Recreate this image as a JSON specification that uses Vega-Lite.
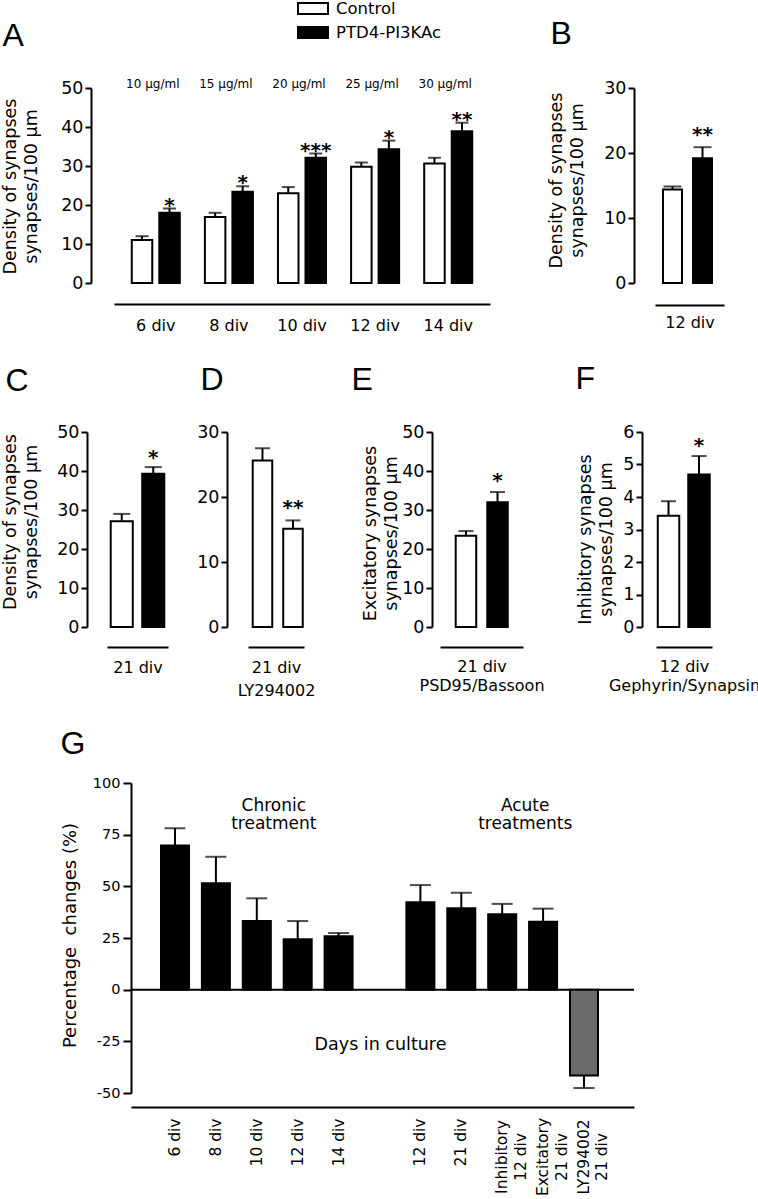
{
  "$schema": "https://vega.github.io/schema/vega-lite/v6.json",
  "background": "white",
  "padding": {"left": 1, "top": 0, "right": 0, "bottom": 0},
  "config": {
    "font": "DejaVu Sans",
    "view": {"stroke": null},
    "axis": {"labelFont": "DejaVu Sans", "titleFont": "DejaVu Sans", "labelColor": "black", "titleColor": "black", "domainColor": "black", "tickColor": "black", "domainWidth": 2, "tickWidth": 2, "grid": false, "labelOverlap": false, "labelFlush": false, "titleFontWeight": "normal"},
    "legend": {"labelFont": "DejaVu Sans", "labelColor": "black"}
  },
  "datasets": {
    "A": [
      {"day": "6 div", "treatment": "Control", "mean": 11.0, "hi": 12.0},
      {"day": "6 div", "treatment": "PTD4-PI3KAc", "mean": 18.0, "hi": 19.1, "sig": "*"},
      {"day": "8 div", "treatment": "Control", "mean": 16.95, "hi": 18.0},
      {"day": "8 div", "treatment": "PTD4-PI3KAc", "mean": 23.4, "hi": 24.8, "sig": "*"},
      {"day": "10 div", "treatment": "Control", "mean": 23.0, "hi": 24.6},
      {"day": "10 div", "treatment": "PTD4-PI3KAc", "mean": 32.1, "hi": 33.2, "sig": "***"},
      {"day": "12 div", "treatment": "Control", "mean": 29.8, "hi": 30.9},
      {"day": "12 div", "treatment": "PTD4-PI3KAc", "mean": 34.3, "hi": 36.5, "sig": "*"},
      {"day": "14 div", "treatment": "Control", "mean": 30.65, "hi": 32.1},
      {"day": "14 div", "treatment": "PTD4-PI3KAc", "mean": 38.9, "hi": 41.1, "sig": "**"}
    ],
    "concA": [
      {"day": "6 div", "conc": "10 µg/ml"},
      {"day": "8 div", "conc": "15 µg/ml"},
      {"day": "10 div", "conc": "20 µg/ml"},
      {"day": "12 div", "conc": "25 µg/ml"},
      {"day": "14 div", "conc": "30 µg/ml"}
    ],
    "B": [
      {"treatment": "Control", "mean": 14.4, "hi": 14.85},
      {"treatment": "PTD4-PI3KAc", "mean": 19.2, "hi": 20.9, "sig": "**"}
    ],
    "C": [
      {"treatment": "Control", "mean": 27.1, "hi": 29.0},
      {"treatment": "PTD4-PI3KAc", "mean": 39.3, "hi": 41.0, "sig": "*"}
    ],
    "D": [
      {"treatment": "Control", "mean": 25.6, "hi": 27.5},
      {"treatment": "LY294002", "mean": 15.1, "hi": 16.4, "sig": "**"}
    ],
    "E": [
      {"treatment": "Control", "mean": 23.4, "hi": 24.6},
      {"treatment": "PTD4-PI3KAc", "mean": 32.0, "hi": 34.6, "sig": "*"}
    ],
    "F": [
      {"treatment": "Control", "mean": 3.42, "hi": 3.87},
      {"treatment": "PTD4-PI3KAc", "mean": 4.69, "hi": 5.26, "sig": "*"}
    ],
    "G": [
      {"cond": "6 div", "treatment": "PTD4-PI3KAc", "mean": 69.7, "end": 78.1},
      {"cond": "8 div", "treatment": "PTD4-PI3KAc", "mean": 51.5, "end": 64.3},
      {"cond": "10 div", "treatment": "PTD4-PI3KAc", "mean": 33.2, "end": 44.2},
      {"cond": "12 div", "treatment": "PTD4-PI3KAc", "mean": 24.4, "end": 33.2},
      {"cond": "14 div", "treatment": "PTD4-PI3KAc", "mean": 25.8, "end": 27.4},
      {"cond": "Acute 12 div", "treatment": "PTD4-PI3KAc", "mean": 42.3, "end": 50.6},
      {"cond": "Acute 21 div", "treatment": "PTD4-PI3KAc", "mean": 39.4, "end": 46.9},
      {"cond": "Inhibitory 12 div", "treatment": "PTD4-PI3KAc", "mean": 36.5, "end": 41.5},
      {"cond": "Excitatory 21 div", "treatment": "PTD4-PI3KAc", "mean": 32.9, "end": 39.2},
      {"cond": "LY294002 21 div", "treatment": "LY294002", "mean": -41.5, "end": -47.6}
    ]
  },
  "spacing": 29,
  "resolve": {"scale": {"fill": "independent"}},
  "vconcat": [
    {
      "hconcat": [
        {"width": 7, "height": 1, "data": {"values": []}, "mark": "point"},
        {
          "width": 376, "height": 195,
          "data": {"name": "A"},
          "resolve": {"axis": {"x": "independent"}},
          "layer": [
            {
              "data": {"values": [{}]},
              "mark": {"type": "rule", "opacity": 0},
              "encoding": {"y": {"datum": 0, "type": "quantitative", "axis": {"values": [0, 10, 20, 30, 40, 50], "tickCount": 6, "labelOverlap": false}}}
            },
            {
              "mark": {"type": "bar", "stroke": "black", "strokeWidth": 2},
              "encoding": {
                "x": {"field": "day", "type": "nominal", "sort": null,
                  "scale": {"domain": ["6 div", "8 div", "10 div", "12 div", "14 div"], "paddingInner": 0.343, "paddingOuter": 0.243},
                  "axis": {"orient": "bottom", "offset": 21, "ticks": false, "tickSize": 0, "labelPadding": 13, "labelFontSize": 16, "labelAngle": 0, "title": null}},
                "xOffset": {"field": "treatment", "type": "nominal", "scale": {"domain": ["Control", "PTD4-PI3KAc"], "paddingInner": 0.255, "paddingOuter": 0}},
                "y": {"field": "mean", "type": "quantitative", "scale": {"domain": [0, 50], "nice": false},
                  "axis": {"values": [0, 10, 20, 30, 40, 50], "tickCount": 6, "offset": 23, "tickSize": 6, "labelPadding": 2, "labelFontSize": 17.5, "labelOverlap": false, "title": ["Density of synapses", "synapses/100 µm"], "titleFontSize": 17.5, "titleLineHeight": 21, "titleAngle": 270, "titleAlign": "center", "titleBaseline": "top", "titleX": -90, "titleY": 98}},
                "fill": {"field": "treatment", "type": "nominal", "scale": {"domain": ["Control", "PTD4-PI3KAc"], "range": ["white", "black"]},
                  "legend": {"orient": "none", "legendX": 190, "legendY": -88, "title": null, "symbolType": "M-1,-0.367H1V0.367H-1Z", "symbolSize": 900, "symbolStrokeColor": "black", "symbolStrokeWidth": 2, "labelFontSize": 16.5, "labelOffset": 7, "clipHeight": 17, "rowPadding": 7, "padding": 0}}
              }
            },
            {
              "mark": {"type": "rule", "color": "black", "strokeWidth": 2},
              "encoding": {
                "x": {"field": "day", "type": "nominal", "axis": null},
                "xOffset": {"field": "treatment", "type": "nominal"},
                "y": {"field": "mean", "type": "quantitative", "axis": {"values": [0, 10, 20, 30, 40, 50], "tickCount": 6, "labelOverlap": false}},
                "y2": {"field": "hi"}
              }
            },
            {
              "mark": {"type": "tick", "color": "black", "thickness": 2, "size": 13},
              "encoding": {
                "x": {"field": "day", "type": "nominal", "axis": null},
                "xOffset": {"field": "treatment", "type": "nominal"},
                "y": {"field": "hi", "type": "quantitative", "axis": {"values": [0, 10, 20, 30, 40, 50], "tickCount": 6, "labelOverlap": false}}
              }
            },
            {
              "transform": [{"filter": "datum.sig"}],
              "mark": {"type": "text", "fontSize": 20, "fontWeight": "bold", "baseline": "alphabetic", "dy": 3},
              "encoding": {
                "x": {"field": "day", "type": "nominal", "axis": null},
                "xOffset": {"field": "treatment", "type": "nominal"},
                "y": {"field": "hi", "type": "quantitative", "axis": {"values": [0, 10, 20, 30, 40, 50], "tickCount": 6, "labelOverlap": false}},
                "text": {"field": "sig"}
              }
            },
            {
              "data": {"name": "concA"},
              "mark": {"type": "text", "fontSize": 12, "baseline": "alphabetic", "dx": -3},
              "encoding": {
                "x": {"field": "day", "type": "nominal",
                  "axis": {"orient": "top", "domain": false, "ticks": false, "labels": false, "title": "A", "titleFont": "Liberation Sans", "titleFontSize": 32, "titleFontWeight": "normal", "titleAlign": "left", "titleBaseline": "alphabetic", "titleAngle": 0, "titleX": -112, "titleY": -43}},
                "y": {"datum": 50, "type": "quantitative", "axis": {"values": [0, 10, 20, 30, 40, 50], "tickCount": 6, "labelOverlap": false}},
                "text": {"field": "conc"}
              }
            }
          ]
        },
        {"width": 165, "height": 1, "data": {"values": []}, "mark": "point"},
        {
          "width": 69, "height": 195,
          "data": {"name": "B"},
          "resolve": {"axis": {"x": "independent"}},
          "layer": [
            {
              "data": {"values": [{}]},
              "mark": {"type": "rule", "opacity": 0},
              "encoding": {"y": {"datum": 0, "type": "quantitative", "axis": {"values": [0, 10, 20, 30], "tickCount": 4, "labelOverlap": false}}}
            },
            {
              "mark": {"type": "bar", "stroke": "black", "strokeWidth": 2},
              "encoding": {
                "x": {"field": "treatment", "type": "nominal", "sort": null,
                  "scale": {"domain": ["Control", "PTD4-PI3KAc"], "paddingInner": 0.367, "paddingOuter": 0.333, "align": 0.4},
                  "axis": {"orient": "bottom", "offset": 22, "ticks": false, "tickSize": 0, "labels": false, "title": "12 div", "titleFontSize": 16, "titleBaseline": "top", "titleY": 9.5}},
                "y": {"field": "mean", "type": "quantitative", "scale": {"domain": [0, 30], "nice": false},
                  "axis": {"values": [0, 10, 20, 30], "tickCount": 4, "offset": 21, "tickSize": 6, "labelPadding": 2, "labelFontSize": 17.5, "labelOverlap": false, "title": ["Density of synapses", "synapses/100 µm"], "titleFontSize": 17.5, "titleLineHeight": 21, "titleAngle": 270, "titleAlign": "center", "titleBaseline": "top", "titleX": -87, "titleY": 92}},
                "fill": {"field": "treatment", "type": "nominal", "scale": {"domain": ["Control", "PTD4-PI3KAc"], "range": ["white", "black"]}, "legend": null}
              }
            },
            {
              "mark": {"type": "rule", "color": "black", "strokeWidth": 2},
              "encoding": {
                "x": {"field": "treatment", "type": "nominal", "axis": null},
                "y": {"field": "mean", "type": "quantitative", "axis": {"values": [0, 10, 20, 30], "tickCount": 4, "labelOverlap": false}},
                "y2": {"field": "hi"}
              }
            },
            {
              "mark": {"type": "tick", "color": "black", "thickness": 2, "size": 18},
              "encoding": {
                "x": {"field": "treatment", "type": "nominal", "axis": null},
                "y": {"field": "hi", "type": "quantitative", "axis": {"values": [0, 10, 20, 30], "tickCount": 4, "labelOverlap": false}}
              }
            },
            {
              "transform": [{"filter": "datum.sig"}],
              "mark": {"type": "text", "fontSize": 20, "fontWeight": "bold", "baseline": "alphabetic", "dy": -6},
              "encoding": {
                "x": {"field": "treatment", "type": "nominal",
                  "axis": {"orient": "top", "domain": false, "ticks": false, "labels": false, "title": "B", "titleFont": "Liberation Sans", "titleFontSize": 32, "titleFontWeight": "normal", "titleAlign": "left", "titleBaseline": "alphabetic", "titleAngle": 0, "titleX": -105, "titleY": -45}},
                "y": {"field": "hi", "type": "quantitative", "axis": {"values": [0, 10, 20, 30], "tickCount": 4, "labelOverlap": false}},
                "text": {"field": "sig"}
              }
            }
          ]
        }
      ],
      "spacing": 0,
      "bounds": "flush"
    },
    {
      "hconcat": [
        {
          "width": 61, "height": 195,
          "data": {"name": "C"},
          "resolve": {"axis": {"x": "independent"}},
          "layer": [
            {
              "data": {"values": [{}]},
              "mark": {"type": "rule", "opacity": 0},
              "encoding": {"y": {"datum": 0, "type": "quantitative", "axis": {"values": [0, 10, 20, 30, 40, 50], "tickCount": 6, "labelOverlap": false}}}
            },
            {
              "mark": {"type": "bar", "stroke": "black", "strokeWidth": 2},
              "encoding": {
                "x": {"field": "treatment", "type": "nominal", "sort": null,
                  "scale": {"domain": ["Control", "PTD4-PI3KAc"], "paddingInner": 0.3, "paddingOuter": 0.118},
                  "axis": {"orient": "bottom", "offset": 20, "ticks": false, "tickSize": 0, "labels": false, "title": "21 div", "titleFontSize": 16, "titleBaseline": "top", "titleY": 12}},
                "y": {"field": "mean", "type": "quantitative", "scale": {"domain": [0, 50], "nice": false},
                  "axis": {"values": [0, 10, 20, 30, 40, 50], "tickCount": 6, "offset": 20, "tickSize": 6, "labelPadding": 2, "labelFontSize": 17.5, "labelOverlap": false, "title": ["Density of synapses", "synapses/100 µm"], "titleFontSize": 17.5, "titleLineHeight": 21, "titleAngle": 270, "titleAlign": "center", "titleBaseline": "top", "titleX": -86, "titleY": 89.5}},
                "fill": {"field": "treatment", "type": "nominal", "scale": {"domain": ["Control", "PTD4-PI3KAc"], "range": ["white", "black"]}, "legend": null}
              }
            },
            {
              "mark": {"type": "rule", "color": "black", "strokeWidth": 2},
              "encoding": {
                "x": {"field": "treatment", "type": "nominal", "axis": null},
                "y": {"field": "mean", "type": "quantitative", "axis": {"values": [0, 10, 20, 30, 40, 50], "tickCount": 6, "labelOverlap": false}},
                "y2": {"field": "hi"}
              }
            },
            {
              "mark": {"type": "tick", "color": "black", "thickness": 2, "size": 17},
              "encoding": {
                "x": {"field": "treatment", "type": "nominal", "axis": null},
                "y": {"field": "hi", "type": "quantitative", "axis": {"values": [0, 10, 20, 30, 40, 50], "tickCount": 6, "labelOverlap": false}}
              }
            },
            {
              "transform": [{"filter": "datum.sig"}],
              "mark": {"type": "text", "fontSize": 20, "fontWeight": "bold", "baseline": "alphabetic", "dy": -3},
              "encoding": {
                "x": {"field": "treatment", "type": "nominal",
                  "axis": {"orient": "top", "domain": false, "ticks": false, "labels": false, "title": "C", "titleFont": "Liberation Sans", "titleFontSize": 32, "titleFontWeight": "normal", "titleAlign": "left", "titleBaseline": "alphabetic", "titleAngle": 0, "titleX": -102, "titleY": -42}},
                "y": {"field": "hi", "type": "quantitative", "axis": {"values": [0, 10, 20, 30, 40, 50], "tickCount": 6, "labelOverlap": false}},
                "text": {"field": "sig"}
              }
            }
          ]
        },
        {"width": 80, "height": 1, "data": {"values": []}, "mark": "point"},
        {
          "width": 56, "height": 195,
          "data": {"name": "D"},
          "resolve": {"axis": {"x": "independent"}},
          "layer": [
            {
              "data": {"values": [{}]},
              "mark": {"type": "rule", "opacity": 0},
              "encoding": {"y": {"datum": 0, "type": "quantitative", "axis": {"values": [0, 10, 20, 30], "tickCount": 4, "labelOverlap": false}}}
            },
            {
              "mark": {"type": "bar", "stroke": "black", "strokeWidth": 2},
              "encoding": {
                "x": {"field": "treatment", "type": "nominal", "sort": null,
                  "scale": {"domain": ["Control", "LY294002"], "paddingInner": 0.36, "paddingOuter": 0.098, "align": 0.79},
                  "axis": {"orient": "bottom", "offset": 20, "ticks": false, "tickSize": 0, "labels": false, "title": ["21 div", "LY294002"], "titleFontSize": 16, "titleLineHeight": 23, "titleBaseline": "top", "titleY": 12}},
                "y": {"field": "mean", "type": "quantitative", "scale": {"domain": [0, 30], "nice": false},
                  "axis": {"values": [0, 10, 20, 30], "tickCount": 4, "offset": 21, "tickSize": 6, "labelPadding": 2, "labelFontSize": 17.5, "labelOverlap": false, "title": null}},
                "fill": {"field": "treatment", "type": "nominal", "scale": {"domain": ["Control", "LY294002"], "range": ["white", "#6b6b6b"]}, "legend": null}
              }
            },
            {
              "mark": {"type": "rule", "color": "black", "strokeWidth": 2},
              "encoding": {
                "x": {"field": "treatment", "type": "nominal", "axis": null},
                "y": {"field": "mean", "type": "quantitative", "axis": {"values": [0, 10, 20, 30], "tickCount": 4, "labelOverlap": false}},
                "y2": {"field": "hi"}
              }
            },
            {
              "mark": {"type": "tick", "color": "black", "thickness": 2, "size": 15},
              "encoding": {
                "x": {"field": "treatment", "type": "nominal", "axis": null},
                "y": {"field": "hi", "type": "quantitative", "axis": {"values": [0, 10, 20, 30], "tickCount": 4, "labelOverlap": false}}
              }
            },
            {
              "transform": [{"filter": "datum.sig"}],
              "mark": {"type": "text", "fontSize": 20, "fontWeight": "bold", "baseline": "alphabetic", "dy": -6},
              "encoding": {
                "x": {"field": "treatment", "type": "nominal",
                  "axis": {"orient": "top", "domain": false, "ticks": false, "labels": false, "title": "D", "titleFont": "Liberation Sans", "titleFontSize": 32, "titleFontWeight": "normal", "titleAlign": "left", "titleBaseline": "alphabetic", "titleAngle": 0, "titleX": -48, "titleY": -43}},
                "y": {"field": "hi", "type": "quantitative", "axis": {"values": [0, 10, 20, 30], "tickCount": 4, "labelOverlap": false}},
                "text": {"field": "sig"}
              }
            }
          ]
        },
        {"width": 136, "height": 1, "data": {"values": []}, "mark": "point"},
        {
          "width": 83, "height": 195,
          "data": {"name": "E"},
          "resolve": {"axis": {"x": "independent"}},
          "layer": [
            {
              "data": {"values": [{}]},
              "mark": {"type": "rule", "opacity": 0},
              "encoding": {"y": {"datum": 0, "type": "quantitative", "axis": {"values": [0, 10, 20, 30, 40, 50], "tickCount": 6, "labelOverlap": false}}}
            },
            {
              "mark": {"type": "bar", "stroke": "black", "strokeWidth": 2},
              "encoding": {
                "x": {"field": "treatment", "type": "nominal", "sort": null,
                  "scale": {"domain": ["Control", "PTD4-PI3KAc"], "paddingInner": 0.35, "paddingOuter": 0.49, "align": 0.508},
                  "axis": {"orient": "bottom", "offset": 20, "ticks": false, "tickSize": 0, "labels": false, "title": ["21 div", "PSD95/Bassoon"], "titleFontSize": 16, "titleLineHeight": 19, "titleBaseline": "top", "titleY": 11}},
                "y": {"field": "mean", "type": "quantitative", "scale": {"domain": [0, 50], "nice": false},
                  "axis": {"values": [0, 10, 20, 30, 40, 50], "tickCount": 6, "offset": 8, "tickSize": 6, "labelPadding": 2, "labelFontSize": 17.5, "labelOverlap": false, "title": ["Excitatory synapses", "synapses/100 µm"], "titleFontSize": 17.5, "titleLineHeight": 21, "titleAngle": 270, "titleAlign": "center", "titleBaseline": "top", "titleX": -71, "titleY": 101}},
                "fill": {"field": "treatment", "type": "nominal", "scale": {"domain": ["Control", "PTD4-PI3KAc"], "range": ["white", "black"]}, "legend": null}
              }
            },
            {
              "mark": {"type": "rule", "color": "black", "strokeWidth": 2},
              "encoding": {
                "x": {"field": "treatment", "type": "nominal", "axis": null},
                "y": {"field": "mean", "type": "quantitative", "axis": {"values": [0, 10, 20, 30, 40, 50], "tickCount": 6, "labelOverlap": false}},
                "y2": {"field": "hi"}
              }
            },
            {
              "mark": {"type": "tick", "color": "black", "thickness": 2, "size": 15},
              "encoding": {
                "x": {"field": "treatment", "type": "nominal", "axis": null},
                "y": {"field": "hi", "type": "quantitative", "axis": {"values": [0, 10, 20, 30, 40, 50], "tickCount": 6, "labelOverlap": false}}
              }
            },
            {
              "transform": [{"filter": "datum.sig"}],
              "mark": {"type": "text", "fontSize": 20, "fontWeight": "bold", "baseline": "alphabetic", "dy": -5},
              "encoding": {
                "x": {"field": "treatment", "type": "nominal",
                  "axis": {"orient": "top", "domain": false, "ticks": false, "labels": false, "title": "E", "titleFont": "Liberation Sans", "titleFontSize": 32, "titleFontWeight": "normal", "titleAlign": "left", "titleBaseline": "alphabetic", "titleAngle": 0, "titleX": -89, "titleY": -43}},
                "y": {"field": "hi", "type": "quantitative", "axis": {"values": [0, 10, 20, 30, 40, 50], "tickCount": 6, "labelOverlap": false}},
                "text": {"field": "sig"}
              }
            }
          ]
        },
        {"width": 133, "height": 1, "data": {"values": []}, "mark": "point"},
        {
          "width": 56, "height": 195,
          "data": {"name": "F"},
          "resolve": {"axis": {"x": "independent"}},
          "layer": [
            {
              "data": {"values": [{}]},
              "mark": {"type": "rule", "opacity": 0},
              "encoding": {"y": {"datum": 0, "type": "quantitative", "axis": {"values": [0, 1, 2, 3, 4, 5, 6], "tickCount": 7, "labelOverlap": false}}}
            },
            {
              "mark": {"type": "bar", "stroke": "black", "strokeWidth": 2},
              "encoding": {
                "x": {"field": "treatment", "type": "nominal", "sort": null,
                  "scale": {"domain": ["Control", "PTD4-PI3KAc"], "paddingInner": 0.295, "paddingOuter": 0.066, "align": 0.44},
                  "axis": {"orient": "bottom", "offset": 20, "ticks": false, "tickSize": 0, "labels": false, "title": ["12 div", "Gephyrin/Synapsin"], "titleFontSize": 16, "titleLineHeight": 19, "titleBaseline": "top", "titleY": 11}},
                "y": {"field": "mean", "type": "quantitative", "scale": {"domain": [0, 6], "nice": false},
                  "axis": {"values": [0, 1, 2, 3, 4, 5, 6], "tickCount": 7, "offset": 14, "tickSize": 6, "labelPadding": 2, "labelFontSize": 17.5, "labelOverlap": false, "title": ["Inhibitory synapses", "synapses/100 µm"], "titleFontSize": 17.5, "titleLineHeight": 21, "titleAngle": 270, "titleAlign": "center", "titleBaseline": "top", "titleX": -66, "titleY": 107}},
                "fill": {"field": "treatment", "type": "nominal", "scale": {"domain": ["Control", "PTD4-PI3KAc"], "range": ["white", "black"]}, "legend": null}
              }
            },
            {
              "mark": {"type": "rule", "color": "black", "strokeWidth": 2},
              "encoding": {
                "x": {"field": "treatment", "type": "nominal", "axis": null},
                "y": {"field": "mean", "type": "quantitative", "axis": {"values": [0, 1, 2, 3, 4, 5, 6], "tickCount": 7, "labelOverlap": false}},
                "y2": {"field": "hi"}
              }
            },
            {
              "mark": {"type": "tick", "color": "black", "thickness": 2, "size": 15},
              "encoding": {
                "x": {"field": "treatment", "type": "nominal", "axis": null},
                "y": {"field": "hi", "type": "quantitative", "axis": {"values": [0, 1, 2, 3, 4, 5, 6], "tickCount": 7, "labelOverlap": false}}
              }
            },
            {
              "transform": [{"filter": "datum.sig"}],
              "mark": {"type": "text", "fontSize": 20, "fontWeight": "bold", "baseline": "alphabetic", "dy": -4},
              "encoding": {
                "x": {"field": "treatment", "type": "nominal",
                  "axis": {"orient": "top", "domain": false, "ticks": false, "labels": false, "title": "F", "titleFont": "Liberation Sans", "titleFontSize": 32, "titleFontWeight": "normal", "titleAlign": "left", "titleBaseline": "alphabetic", "titleAngle": 0, "titleX": -81, "titleY": -44}},
                "y": {"field": "hi", "type": "quantitative", "axis": {"values": [0, 1, 2, 3, 4, 5, 6], "tickCount": 7, "labelOverlap": false}},
                "text": {"field": "sig"}
              }
            }
          ]
        }
      ],
      "spacing": 0,
      "bounds": "flush"
    },
    {
      "hconcat": [
        {"width": 24, "height": 1, "data": {"values": []}, "mark": "point"},
        {
          "width": 503, "height": 310,
          "data": {"name": "G"},
          "resolve": {"axis": {"x": "independent"}},
          "layer": [
            {
              "data": {"values": [{}]},
              "mark": {"type": "rule", "color": "black", "strokeWidth": 2},
              "encoding": {"y": {"datum": 0, "type": "quantitative"}}
            },
            {
              "mark": {"type": "bar", "stroke": "black", "strokeWidth": 2},
              "encoding": {
                "x": {"field": "cond", "type": "nominal", "sort": null,
                  "scale": {"domain": ["6 div", "8 div", "10 div", "12 div", "14 div", "gap", "Acute 12 div", "Acute 21 div", "Inhibitory 12 div", "Excitatory 21 div", "LY294002 21 div"], "paddingInner": 0.315, "paddingOuter": 0.807, "align": 0.4545},
                  "axis": {"orient": "bottom", "offset": 14, "ticks": false, "tickSize": 0, "labelAngle": 270, "labelFontSize": 15.5, "labelLineHeight": 18.5, "labelBaseline": "middle",
                    "labelExpr": "datum.value == 'gap' ? '' : indexof(datum.value, 'Acute ') == 0 ? substring(datum.value, 6) : (indexof(datum.value, 'Inhibitory') == 0 || indexof(datum.value, 'Excitatory') == 0 || indexof(datum.value, 'LY') == 0) ? [substring(datum.value, 0, indexof(datum.value, ' ')), substring(datum.value, indexof(datum.value, ' ') + 1)] : datum.value",
                    "labelAlign": {"condition": {"test": "indexof(datum.value, 'Inhibitory') == 0 || indexof(datum.value, 'Excitatory') == 0 || indexof(datum.value, 'LY') == 0", "value": "center"}, "value": "right"},
                    "labelPadding": {"condition": {"test": "indexof(datum.value, 'Inhibitory') == 0 || indexof(datum.value, 'Excitatory') == 0 || indexof(datum.value, 'LY') == 0", "value": 49.5}, "value": 11},
                    "title": null}},
                "y": {"field": "mean", "type": "quantitative", "scale": {"domain": [-50, 100], "nice": false},
                  "axis": {"values": [-50, -25, 0, 25, 50, 75, 100], "offset": 0, "tickSize": 8, "labelPadding": 3, "labelFontSize": 14.5, "labelOverlap": false, "labelExpr": "replace(datum.label, '\u2212', '-')", "title": "Percentage\u00a0 changes (%)", "titleFontSize": 18, "titleAngle": 270, "titleAlign": "center", "titleBaseline": "top", "titleX": -70, "titleY": 152}},
                "fill": {"field": "treatment", "type": "nominal", "scale": {"domain": ["PTD4-PI3KAc", "LY294002"], "range": ["black", "#6b6b6b"]}, "legend": null}
              }
            },
            {
              "mark": {"type": "rule", "color": "black", "strokeWidth": 2},
              "encoding": {
                "x": {"field": "cond", "type": "nominal", "axis": null},
                "y": {"field": "mean", "type": "quantitative"},
                "y2": {"field": "end"}
              }
            },
            {
              "mark": {"type": "tick", "color": "black", "thickness": 2, "size": 21},
              "encoding": {
                "x": {"field": "cond", "type": "nominal",
                  "axis": {"orient": "top", "domain": false, "ticks": false, "labels": false, "title": "G", "titleFont": "Liberation Sans", "titleFontSize": 32, "titleFontWeight": "normal", "titleAlign": "left", "titleBaseline": "alphabetic", "titleAngle": 0, "titleX": -71, "titleY": -30}},
                "y": {"field": "end", "type": "quantitative"}
              }
            },
            {
              "data": {"values": [{}]},
              "mark": {"type": "text", "fontSize": 17, "lineHeight": 18, "baseline": "middle", "align": "center", "dx": 17, "text": ["Chronic", "treatment"]},
              "encoding": {"x": {"datum": "10 div", "type": "nominal", "axis": null}, "y": {"datum": 89, "type": "quantitative"}}
            },
            {
              "data": {"values": [{}]},
              "mark": {"type": "text", "fontSize": 17, "lineHeight": 18, "baseline": "middle", "align": "center", "dx": 23, "text": ["Acute", "treatments"]},
              "encoding": {"x": {"datum": "Inhibitory 12 div", "type": "nominal", "axis": null}, "y": {"datum": 89, "type": "quantitative"}}
            },
            {
              "data": {"values": [{}]},
              "mark": {"type": "text", "fontSize": 17.5, "baseline": "middle", "align": "center", "dx": 1, "text": "Days in culture"},
              "encoding": {"x": {"datum": "gap", "type": "nominal", "axis": null}, "y": {"datum": -27, "type": "quantitative"}}
            }
          ]
        }
      ],
      "spacing": 0,
      "bounds": "flush"
    }
  ]
}
